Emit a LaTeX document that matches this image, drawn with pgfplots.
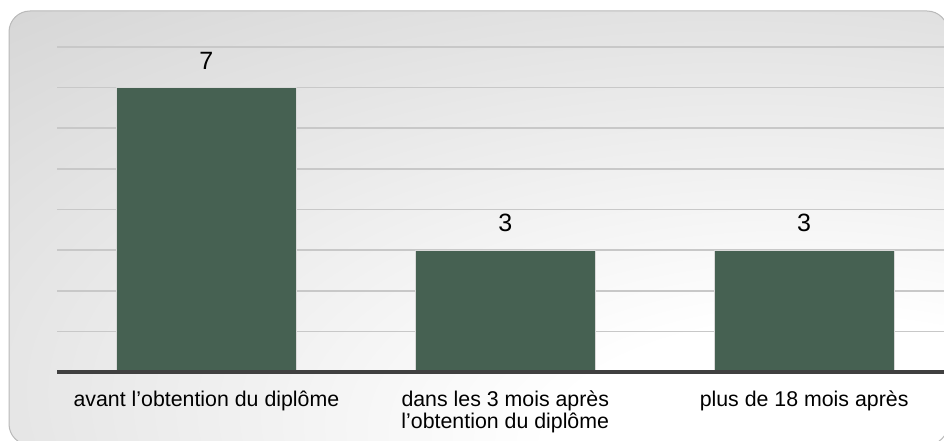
\documentclass[border=0pt]{standalone}
\usepackage{pgfplots}
\pgfplotsset{compat=1.18}
\usepackage{fontspec}
\setmainfont{Liberation Sans}
\definecolor{barc}{RGB}{70,97,82}
\definecolor{gridc}{RGB}{200,200,200}
\definecolor{axc}{RGB}{64,64,64}
\pgfdeclareradialshading{bgshade}{\pgfpoint{22bp}{-30bp}}{color(0bp)=(white); color(15bp)=(white); color(60bp)=(gray!38); color(100bp)=(gray!46)}
\begin{document}
\begin{tikzpicture}[x=0.75pt,y=0.75pt]
\useasboundingbox (0,0) rectangle (944,440);
\clip (0,0) rectangle (944,440);
\shadedraw[shading=bgshade, draw=gray!55, line width=0.75pt, rounded corners=15.75pt] (9,-5) rectangle (948,429);
\begin{axis}[
  at={(42.75pt,51pt)}, anchor=south west,
  scale only axis, width=672.4pt, height=243.75pt,
  xmin=-0.5, xmax=2.5, ymin=0, ymax=8,
  ytick={0,1,...,8}, yticklabels={},
  xtick={0,1,2},
  xticklabels={avant l’obtention du diplôme, {dans les 3 mois après\\l’obtention du diplôme}, plus de 18 mois après},
  xticklabel style={font=\fontsize{16pt}{16.8pt}\selectfont, align=center, yshift=-10.5pt, text=black},
  major tick length=0pt,
  ymajorgrids, grid style={gridc, line width=1.2pt},
  axis line style={draw=none},
  clip=false,
  /pgf/number format/assume math mode=true,
  nodes near coords,
  nodes near coords style={font=\fontsize{18.75pt}{20pt}\selectfont, anchor=south, inner sep=0pt, yshift=13.5pt, text=black, /pgf/number format/assume math mode=true},
]
\addplot[ybar, bar width=135pt, fill=barc, draw=white!85!black, line width=0.6pt] coordinates {(0,7) (1,3) (2,3)};
\draw[axc, line width=3pt] (axis cs:-0.5,0) -- (axis cs:2.5,0);
\end{axis}
\end{tikzpicture}
\end{document}
